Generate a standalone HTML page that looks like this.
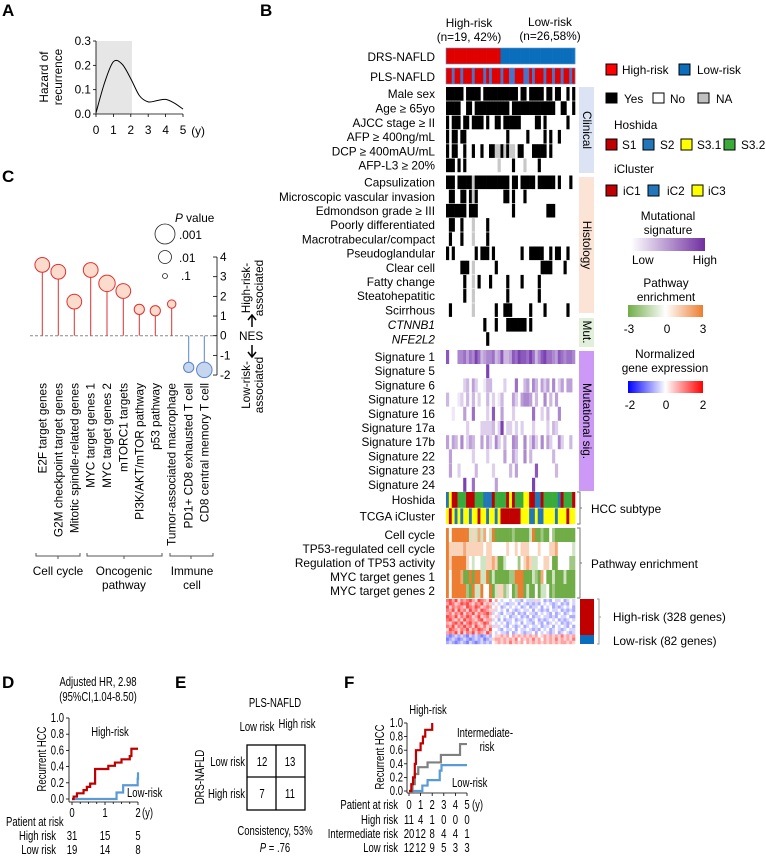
<!DOCTYPE html>
<html><head><meta charset="utf-8">
<style>
html,body{margin:0;padding:0;background:#fff;}
svg{display:block;font-family:"Liberation Sans",Arial,sans-serif;}
.n{font-family:"Liberation Sans Narrow","Liberation Sans",sans-serif;font-size:12.5px;}
.l{font-size:11.8px;}
.pl{font-size:17px;font-weight:bold;}
</style></head>
<body>
<svg id="fig" width="766" height="858" viewBox="0 0 766 858" xmlns="http://www.w3.org/2000/svg">
<text class="pl" x="2" y="16">A</text>
<text class="pl" x="260" y="16">B</text>
<text class="pl" x="2" y="182">C</text>
<text class="pl" x="2" y="688">D</text>
<text class="pl" x="175" y="688">E</text>
<text class="pl" x="344" y="688">F</text>

<g id="pa" class="l">
<rect x="96" y="41" width="36" height="73" fill="#e6e6e6"/>
<text transform="translate(48,77) rotate(-90)" text-anchor="middle">Hazard of</text>
<text transform="translate(62,77) rotate(-90)" text-anchor="middle">recurrence</text>
<text x="205" y="135" text-anchor="end">(y)</text>
</g>

<g id="pc" class="l">
<text x="175" y="222"><tspan font-style="italic">P</tspan> value</text>
<text x="179" y="239">.001</text>
<text x="179" y="262">.01</text>
<text x="181" y="280">.1</text>
<circle cx="165" cy="234" r="10" fill="none" stroke="#222" stroke-width="0.8"/>
<circle cx="165" cy="257" r="6.5" fill="none" stroke="#222" stroke-width="0.8"/>
<circle cx="165" cy="276" r="2.5" fill="none" stroke="#222" stroke-width="0.8"/>
<text transform="translate(250,288) rotate(-90)" text-anchor="middle">High-risk-</text>
<text transform="translate(263,288) rotate(-90)" text-anchor="middle">associated</text>
<text x="239" y="340">NES</text>
<path d="M252,327 L252,316 M248,320 L252,315 L256,320" fill="none" stroke="#000" stroke-width="1.5"/>
<path d="M252,345 L252,356 M248,352 L252,357 L256,352" fill="none" stroke="#000" stroke-width="1.5"/>
<text transform="translate(250,385) rotate(-90)" text-anchor="middle">Low-risk-</text>
<text transform="translate(263,385) rotate(-90)" text-anchor="middle">associated</text>
<path d="M36,553 V556 H80 V553 M58,556 V559" fill="none" stroke="#555"/>
<path d="M87,553 V556 H162 V553 M124,556 V559" fill="none" stroke="#555"/>
<path d="M170,553 V556 H213 V553 M191,556 V559" fill="none" stroke="#555"/>
<text x="58" y="575" text-anchor="middle">Cell cycle</text>
<text x="124" y="575" text-anchor="middle">Oncogenic</text>
<text x="124" y="589" text-anchor="middle">pathway</text>
<text x="192" y="575" text-anchor="middle">Immune</text>
<text x="192" y="589" text-anchor="middle">cell</text>
</g>

<g id="pb" class="l">
<text x="469" y="27" text-anchor="middle">High-risk</text>
<text x="469" y="41" text-anchor="middle">(n=19, 42%)</text>
<text x="550" y="26" text-anchor="middle">Low-risk</text>
<text x="550" y="40" text-anchor="middle">(n=26,58%)</text>
<text x="435" y="61" text-anchor="end">DRS-NAFLD</text>
<text x="435" y="81" text-anchor="end">PLS-NAFLD</text>
<g id="rowlabels" text-anchor="end"></g>
<rect x="579" y="87" width="15" height="86" fill="#dbe3f4"/>
<rect x="579" y="177" width="15" height="136" fill="#fbe3d6"/>
<rect x="579" y="318" width="15" height="29" fill="#e2efda"/>
<rect x="579" y="351" width="15" height="140" fill="#cc99f7"/>
<text transform="translate(583,130) rotate(90)" text-anchor="middle">Clinical</text>
<text transform="translate(583,245) rotate(90)" text-anchor="middle">Histology</text>
<text transform="translate(583,332) rotate(90)" text-anchor="middle">Mut.</text>
<text transform="translate(583,421) rotate(90)" text-anchor="middle">Mutational sig.</text>
<path d="M577,492 H580 V524 H577 M580,508 H582" fill="none" stroke="#777"/>
<text x="591" y="513">HCC subtype</text>
<path d="M577,528 H580 V598 H577 M580,563 H582" fill="none" stroke="#777"/>
<text x="591" y="568">Pathway enrichment</text>
<rect x="580" y="599" width="14" height="36" fill="#c00000"/>
<rect x="580" y="635" width="14" height="9" fill="#0a6ebd"/>
<path d="M597,599 H599 V644 H597 M599,617 H601" fill="none" stroke="#999"/>
<text x="613" y="621">High-risk (328 genes)</text>
<text x="613" y="645">Low-risk (82 genes)</text>
<rect x="606" y="64" width="11" height="11" fill="#ff0000" stroke="#000"/>
<text x="622" y="74">High-risk</text>
<rect x="679" y="64" width="11" height="11" fill="#0a6ebd" stroke="#000"/>
<text x="697" y="74">Low-risk</text>
<rect x="606" y="93" width="11" height="10" fill="#000" stroke="#000"/>
<text x="624" y="103">Yes</text>
<rect x="653" y="93" width="11" height="10" fill="#fff" stroke="#000"/>
<text x="670" y="103">No</text>
<rect x="698" y="93" width="11" height="10" fill="#c0c0c0" stroke="#000"/>
<text x="716" y="103">NA</text>
<text x="614" y="129">Hoshida</text>
<rect x="606" y="139" width="11" height="11" fill="#c00000" stroke="#000"/>
<text x="622" y="149">S1</text>
<rect x="643" y="139" width="11" height="11" fill="#2277bb" stroke="#000"/>
<text x="660" y="149">S2</text>
<rect x="681" y="139" width="11" height="11" fill="#ffff00" stroke="#000"/>
<text x="697" y="149">S3.1</text>
<rect x="724" y="139" width="11" height="11" fill="#3aaa3a" stroke="#000"/>
<text x="741" y="149">S3.2</text>
<text x="614" y="173">iCluster</text>
<rect x="606" y="185" width="11" height="11" fill="#c00000" stroke="#000"/>
<text x="623" y="195">iC1</text>
<rect x="648" y="185" width="11" height="11" fill="#2277bb" stroke="#000"/>
<text x="667" y="195">iC2</text>
<rect x="692" y="185" width="11" height="11" fill="#ffff00" stroke="#000"/>
<text x="708" y="195">iC3</text>
<defs>
<linearGradient id="gp"><stop offset="0" stop-color="#fff"/><stop offset="1" stop-color="#7030a0"/></linearGradient>
<linearGradient id="gg"><stop offset="0" stop-color="#70ad47"/><stop offset="0.5" stop-color="#fff"/><stop offset="1" stop-color="#ed7d31"/></linearGradient>
<linearGradient id="gb"><stop offset="0" stop-color="#0000ff"/><stop offset="0.5" stop-color="#fff"/><stop offset="1" stop-color="#ff0000"/></linearGradient>
</defs>
<text x="668" y="220" text-anchor="middle">Mutational</text>
<text x="668" y="234" text-anchor="middle">signature</text>
<rect x="631" y="238" width="74" height="13" fill="url(#gp)"/>
<text x="632" y="264">Low</text>
<text x="717" y="264" text-anchor="end">High</text>
<text x="666" y="287" text-anchor="middle">Pathway</text>
<text x="666" y="301" text-anchor="middle">enrichment</text>
<rect x="628" y="305" width="75" height="12" fill="url(#gg)"/>
<text x="629" y="333" text-anchor="middle">-3</text>
<text x="667" y="333" text-anchor="middle">0</text>
<text x="703" y="333" text-anchor="middle">3</text>
<text x="665" y="358" text-anchor="middle">Normalized</text>
<text x="665" y="372" text-anchor="middle">gene expression</text>
<rect x="628" y="381" width="75" height="12" fill="url(#gb)"/>
<text x="630" y="409" text-anchor="middle">-2</text>
<text x="666" y="409" text-anchor="middle">0</text>
<text x="703" y="409" text-anchor="middle">2</text>
</g>

<g id="pd" class="n">
<text x="98" y="686" text-anchor="middle">Adjusted HR, 2.98</text>
<text x="98" y="701" text-anchor="middle">(95%CI,1.04-8.50)</text>
<text transform="translate(46,759) rotate(-90)" text-anchor="middle">Recurrent HCC</text>
<text x="110" y="736" text-anchor="middle">High-risk</text>
<text x="127" y="797">Low-risk</text>
<text x="142" y="817">(y)</text>
<text x="6" y="826">Patient at risk</text>
<text x="56" y="840" text-anchor="end">High risk</text>
<text x="56" y="854" text-anchor="end">Low risk</text>
</g>

<g id="pe" class="n">
<text x="275" y="707" text-anchor="middle">PLS-NAFLD</text>
<text x="257" y="731" text-anchor="middle">Low risk</text>
<text x="297" y="728" text-anchor="middle">High risk</text>
<text transform="translate(204,777) rotate(-90)" text-anchor="middle">DRS-NAFLD</text>
<text x="245" y="766" text-anchor="end">Low risk</text>
<text x="245" y="798" text-anchor="end">High risk</text>
<rect x="247" y="745" width="58" height="65" fill="none" stroke="#000" stroke-width="1.3"/>
<path d="M276,745 V810 M247,777 H305" stroke="#000" stroke-width="1.3"/>
<text x="262" y="766" text-anchor="middle">12</text>
<text x="290" y="766" text-anchor="middle">13</text>
<text x="262" y="798" text-anchor="middle">7</text>
<text x="290" y="798" text-anchor="middle">11</text>
<text x="275" y="835" text-anchor="middle">Consistency, 53%</text>
<text x="275" y="852" text-anchor="middle"><tspan font-style="italic">P</tspan> = .76</text>
</g>

<g id="pf" class="n">
<text x="428" y="714" text-anchor="middle">High-risk</text>
<text x="457" y="737">Intermediate-</text>
<text x="487" y="751" text-anchor="middle">risk</text>
<text x="452" y="787">Low-risk</text>
<text transform="translate(384,757) rotate(-90)" text-anchor="middle">Recurrent HCC</text>
<text x="472" y="809">(y)</text>
<text x="398" y="809" text-anchor="end">Patient at risk</text>
<text x="398" y="824" text-anchor="end">High risk</text>
<text x="398" y="838" text-anchor="end">Intermediate risk</text>
<text x="398" y="852" text-anchor="end">Low risk</text>
</g>
</svg>

<script>
// Panel A
const aYears = [0,0.5,1,1.5,2,2.5,3,3.5,4,4.5,5];
const aHazard = [0.005,0.13,0.215,0.205,0.145,0.075,0.05,0.055,0.06,0.045,0.02];
const aYTicks = ["0.0","0.1","0.2","0.3"];
const aXTicks = ["0","1","2","3","4","5"];
// Panel C
const cCategories = ["E2F target genes","G2M checkpoint target genes","Mitotic spindle-related genes","MYC target genes 1","MYC target genes 2","mTORC1 targets","PI3K/AKT/mTOR pathway","p53 pathway","Tumor-associated macrophage","PD1+ CD8 exhausted T cell","CD8 central memory T cell"];
const cNES = [3.6,3.25,1.73,3.34,2.66,2.27,1.34,1.27,1.61,-1.61,-1.74];
const cPval = [0.005,0.005,0.005,0.005,0.003,0.005,0.02,0.02,0.035,0.02,0.004];
const cTicks = [-2,-1,0,1,2,3,4];
// Panel B
const drsRisk = "111111111111111111100000000000000000000000000";
const plsRisk = "110110111011101011101100111001011101101101101";
const clinicalLabels = ["Male sex","Age \u2265 65yo","AJCC stage \u2265 II","AFP \u2265 400ng/mL","DCP \u2265 400mAU/mL","AFP-L3 \u2265 20%"];
const clinicalRows = [
 "111111011111011111111111101101111101101100101",
 "111110011011111111111101111111111111110011001",
 "101110110111101001101111110000011010000000100",
 "101101100000000000000100000010000010100100000",
 "101100100100100112212122011000111110100000000",
 "111010100000000000200001000200001000000000000"];
const histologyLabels = ["Capsulization","Microscopic vascular invasion","Edmondson grade \u2265 III","Poorly differentiated","Macrotrabecular/compact","Pseudoglandular","Clear cell","Fatty change","Steatohepatitic","Scirrhous"];
const histologyRows = [
 "111011111211111111111101101111101111110100010",
 "011001101210000000001101000100000000000000000",
 "111111101110000000000001000000000001110000000",
 "011001000200001000000000000000000000000000000",
 "010001000200001000000000000000000000000000000",
 "101000000010111010000000001001111100101100100",
 "000001110200000001000000000000000111100001000",
 "000000100201000100000100001000001000000000000",
 "000000100200000000000100000000001000000000000",
 "010000000200000001001110000001000010000000100"];
const mutLabels = ["CTNNB1","NFE2L2"];
const mutRows = [
 "000000000000010001000111111101000000000000000",
 "000000000000001000000000000000000000000000000"];
const sigLabels = ["Signature 1","Signature 5","Signature 6","Signature 12","Signature 16","Signature 17a","Signature 17b","Signature 22","Signature 23","Signature 24"];
const sigRows = [
 "700055646586345563473347687768635786654765665",
 "000000000000008000000000000000000000000000000",
 "000000230420013300002000600340530424050240440",
 "300012030302003020130004204554030050304000000",
 "001000400600002070040002000000600203000500000",
 "000000020000222230280220202000200002032000000",
 "404305024300404205203005400502520504200520030",
 "040000000200002000004004200503000000030000000",
 "040020000030000020000030400000070000003000000",
 "000000800600000004000000000000800000000000000"];
const subtypeLabels = ["Hoshida","TCGA iCluster"];
const hoshida = "231144411144422214444131444331122144444214441";
const icluster = "313232332331332332311111113332232233332333133";
const pathwayLabels = ["Cell cycle","TP53-regulated cell cycle","Regulation of TP53 activity","MYC target genes 1","MYC target genes 2"];
const pathwayRows = [
 "636666662425253260000001000002600100310000000",
 "644444544444434433333433434443334333445333332",
 "646666643233224454002333313454223344300333311",
 "636665006066226020000011666000210530020002000",
 "636666610622633602441230166020030223010000000"];
const geneRows = [
 "786857678658765846434434332433353423243342343",
 "687568786576856534343233424323232434323423243",
 "857676587687567645423434342342334243423234342",
 "768586758675876553434243234334243232433423232",
 "675768576857678634324332423243324343242342343",
 "876857687568567545343423342324233433232433422",
 "786575867657856634242334233432342323434232343",
 "657868578675687543434234342433243242343423234",
 "768576867586575635343243234234334233424343242",
 "587657685768765844324334243343232434234323433",
 "676858576857658643433242343233424343234234323",
 "212323213232123245565646565656564565656575656",
 "123212321232312356656565746565756465657565657",
 "232123213212323245656575656465656565656566565"];
// Panel D
const dYTicks = ["0.0","0.2","0.4","0.6","0.8","1.0"];
const dXTicks = ["0","1","2"];
const dHighT = [0,0.05,0.15,0.35,0.45,0.55,0.7,0.9,1.1,1.3,1.5,1.75,1.8,2.0];
const dHighY = [0,0.03,0.07,0.11,0.15,0.19,0.37,0.37,0.41,0.45,0.49,0.53,0.62,0.62];
const dLowT = [0,1.35,1.55,1.97,1.99,2.0];
const dLowY = [0,0.08,0.17,0.17,0.25,0.33];
const dHighRisk = ["31","15","5"];
const dLowRisk = ["19","14","8"];
// Panel F
const fYTicks = ["0.0","0.2","0.4","0.6","0.8","1.0"];
const fXTicks = ["0","1","2","3","4","5"];
const fHighT = [0,0.2,0.35,0.5,0.6,1.0,1.2,1.4,2.0,2.0];
const fHighY = [0,0.1,0.2,0.4,0.6,0.7,0.8,0.9,0.9,1.0];
const fIntT = [0,0.3,0.5,0.8,1.6,2.75,4.4,5.0];
const fIntY = [0,0.1,0.25,0.35,0.42,0.53,0.69,0.69];
const fLowT = [0,1.15,1.6,2.65,2.8,5.0];
const fLowY = [0,0.08,0.16,0.3,0.38,0.38];
const fHighRisk = ["11","4","1","0","0","0"];
const fIntRisk = ["20","12","8","4","4","1"];
const fLowRisk = ["12","12","9","5","3","3"];

const NS = "http://www.w3.org/2000/svg";
function mk(parent, tag, attrs, name) {
  const el = document.createElementNS(NS, tag);
  for (const k in attrs) el.setAttribute(k, attrs[k]);
  
  
  parent.appendChild(el);
  return el;
}
function txt(parent, x, y, s, anchor, name) {
  const el = mk(parent, 'text', {x: x, y: y, 'text-anchor': anchor || 'start'}, name);
  el.textContent = s;
  return el;
}
function lerp(c1, c2, t) {
  const a = [parseInt(c1.slice(1,3),16),parseInt(c1.slice(3,5),16),parseInt(c1.slice(5,7),16)];
  const b = [parseInt(c2.slice(1,3),16),parseInt(c2.slice(3,5),16),parseInt(c2.slice(5,7),16)];
  return 'rgb(' + a.map((v,i)=>Math.round(v+(b[i]-v)*t)).join(',') + ')';
}

// PANEL A
(function(){
  const g = document.getElementById('pa');
  const xA = v => 96 + v * 17.4, yA = v => 114 - v * 243.3;
  mk(g,'path',{d:'M96,41 V114 H183',fill:'none',stroke:'#000','stroke-width':0.8},'a-axes');
  aYTicks.forEach(t=>{ const y=yA(+t); mk(g,'line',{x1:93,x2:96,y1:y,y2:y,stroke:'#000','stroke-width':0.8},'a-y-tick'); txt(g,91,y+4,t,'end','a-y-tick-label'); });
  aXTicks.forEach(t=>{ const x=xA(+t); mk(g,'line',{x1:x,x2:x,y1:114,y2:117,stroke:'#000','stroke-width':0.8},'a-x-tick'); txt(g,x,134,t,'middle','a-x-tick-label'); });
  const P = aYears.map((t,i)=>[xA(t), yA(aHazard[i])]);
  let d = 'M'+P[0][0]+','+P[0][1];
  for (let i=0;i<P.length-1;i++){
    const p0=P[Math.max(0,i-1)],p1=P[i],p2=P[i+1],p3=P[Math.min(P.length-1,i+2)];
    const c1=[p1[0]+(p2[0]-p0[0])/6,p1[1]+(p2[1]-p0[1])/6], c2=[p2[0]-(p3[0]-p1[0])/6,p2[1]-(p3[1]-p1[1])/6];
    d+=' C'+c1+' '+c2+' '+p2;
  }
  mk(g,'path',{d:d,fill:'none',stroke:'#000','stroke-width':1},'hazard-curve');
})();

// PANEL C
(function(){
  const g = document.getElementById('pc');
  const xs = [42.3,58.3,74.3,90.7,107,123.3,139.3,155.3,171.7,188.7,204.3];
  const yC = v => 335.7 - v * 19.67;
  const rP = p => 2.5 + 3.75 * (-Math.log10(p) - 1);
  mk(g,'line',{x1:30,x2:216,y1:yC(0),y2:yC(0),stroke:'#888','stroke-dasharray':'3,2','stroke-width':1},'nes-zero-line');
  mk(g,'line',{x1:217,x2:217,y1:yC(4),y2:yC(-2),stroke:'#000','stroke-width':0.8},'nes-axis');
  cTicks.forEach(t=>{ const y=yC(t); mk(g,'line',{x1:213,x2:217,y1:y,y2:y,stroke:'#000','stroke-width':0.8},'nes-tick'); txt(g,220,y+4,String(t),'start','nes-tick-label'); });
  cCategories.forEach((c,i)=>{
    const up = cNES[i] >= 0, col = up ? '#e03030' : '#5b84c8', fill = up ? '#fbdccc' : '#c6d6ef';
    const x = xs[i], y = yC(cNES[i]);
    mk(g,'line',{x1:x,x2:x,y1:yC(0),y2:y,stroke:col,'stroke-width':1},'lollipop-stem');
    mk(g,'circle',{cx:x,cy:y,r:rP(cPval[i]),fill:fill,stroke:col,'stroke-width':1},'lollipop-head');
    const t = mk(g,'text',{transform:'translate('+(x+4)+',383) rotate(-90)','text-anchor':'end'},'category-label');
    t.textContent = c;
  });
})();

// PANEL B
(function(){
  const g = document.getElementById('pb');
  const rl = document.getElementById('rowlabels');
  const X0 = 446, NC = 45, CW = 129 / NC;
  const cx = i => X0 + i * CW;
  for (let i=0;i<NC;i++) mk(g,'rect',{x:cx(i),y:48,width:CW+0.3,height:16,fill:drsRisk[i]==='1'?'#e00000':'#0a6ebd'},'drs-cell');
  mk(g,'rect',{x:X0,y:48,width:129,height:16,fill:'none',stroke:'#5b9bd5','stroke-width':0.6},'drs-border');
  for (let i=0;i<NC;i++) mk(g,'rect',{x:cx(i),y:68,width:CW+0.3,height:16,fill:plsRisk[i]==='1'?'#e00000':'#4a74c9'},'pls-cell');
  mk(g,'rect',{x:X0,y:68,width:129,height:16,fill:'none',stroke:'#5b9bd5','stroke-width':0.6},'pls-border');
  function binRows(labels, rows, top, h, name, italic){
    rows.forEach((r,ri)=>{
      const y = top + ri*h;
      const t = txt(rl, 435, y + h/2 + 4, labels[ri], 'end', name + '-label');
      if (italic) t.setAttribute('font-style','italic');
      for (let i=0;i<NC;i++){
        const v = r[i];
        if (v==='1') mk(g,'rect',{x:cx(i),y:y,width:CW+0.3,height:h-0.6,fill:'#000'},name+'-cell');
        else if (v==='2') mk(g,'rect',{x:cx(i),y:y,width:CW+0.3,height:h-0.6,fill:'#c8c8c8'},name+'-cell');
      }
    });
  }
  binRows(clinicalLabels, clinicalRows, 87, 14.3, 'clinical');
  binRows(histologyLabels, histologyRows, 175.5, 14.2, 'histology');
  binRows(mutLabels, mutRows, 318, 14.2, 'mutation', true);
  sigLabels.forEach((lab,ri)=>{
    const y = 350 + ri*14.2;
    txt(rl, 435, y + 11, lab, 'end', 'signature-label');
    for (let i=0;i<NC;i++){ const v=+sigRows[ri][i]; if (v>0) mk(g,'rect',{x:cx(i),y:y,width:CW+0.3,height:14,fill:lerp('#ffffff','#6a2aa8',v/9)},'signature-cell'); }
  });
  const hc = {'1':'#c00000','2':'#2277bb','3':'#ffff00','4':'#3aaa3a'};
  [hoshida, icluster].forEach((r,ri)=>{
    const y = 492 + ri*16.3;
    txt(rl, 435, y + 12, subtypeLabels[ri], 'end', 'subtype-label');
    for (let i=0;i<NC;i++) mk(g,'rect',{x:cx(i),y:y,width:CW+0.3,height:15.8,fill:hc[r[i]]},'subtype-cell');
  });
  pathwayLabels.forEach((lab,ri)=>{
    const y = 528 + ri*14;
    txt(rl, 435, y + 11, lab, 'end', 'pathway-label');
    for (let i=0;i<NC;i++){
      const v = +pathwayRows[ri][i] - 3;
      const col = v<0 ? lerp('#ffffff','#70ad47',-v/3) : lerp('#ffffff','#ed7d31',v/3);
      mk(g,'rect',{x:cx(i),y:y,width:CW+0.3,height:14.2,fill:col},'pathway-cell');
    }
  });
  const gh = 45 / geneRows.length;
  geneRows.forEach((r,ri)=>{
    for (let i=0;i<NC;i++){
      const v = +r[i] - 4;
      const col = v<0 ? lerp('#ffffff','#3a3aff',-v/4*0.85) : lerp('#ffffff','#ff2a2a',v/4*0.85);
      mk(g,'rect',{x:cx(i),y:599+ri*gh,width:CW+0.3,height:gh+0.2,fill:col},'gene-cell');
    }
  });
})();

function step(g, T, Y, xf, yf, color, name){
  let d = 'M'+xf(T[0])+','+yf(Y[0]);
  for (let i=1;i<T.length;i++){ d += ' H'+xf(T[i])+' V'+yf(Y[i]); }
  mk(g,'path',{d:d,fill:'none',stroke:color,'stroke-width':2.2},name);
}
// PANEL D
(function(){
  const g = document.getElementById('pd');
  const xD = t => 72 + t*33, yD = v => 799 - v*81;
  mk(g,'path',{d:'M69,718 V802 M69,802 H138',fill:'none',stroke:'#000','stroke-width':0.8},'d-axes');
  dYTicks.forEach(t=>{ const y=yD(+t); mk(g,'line',{x1:66,x2:69,y1:y,y2:y,stroke:'#000','stroke-width':0.8},'d-y-tick'); txt(g,64,y+4,t,'end','d-y-tick-label'); });
  for (let k=0;k<=8;k++){ const x=xD(k*0.25); mk(g,'line',{x1:x,x2:x,y1:802,y2:k%4===0?805:804,stroke:'#000','stroke-width':0.8},'d-x-tick'); }
  dXTicks.forEach(t=>txt(g,xD(+t),817,t,'middle','d-x-tick-label'));
  step(g, dLowT, dLowY, xD, yD, '#5b9bd5', 'low-risk-curve');
  step(g, dHighT, dHighY, xD, yD, '#c00000', 'high-risk-curve');
  dHighRisk.forEach((v,i)=>txt(g,xD(i),840,v,'middle','d-high-risk-count'));
  dLowRisk.forEach((v,i)=>txt(g,xD(i),854,v,'middle','d-low-risk-count'));
})();
// PANEL F
(function(){
  const g = document.getElementById('pf');
  const xF = t => 409 + t*11.6, yF = v => 791 - v*68;
  mk(g,'path',{d:'M407,723 V793 M407,793 H467',fill:'none',stroke:'#000','stroke-width':0.8},'f-axes');
  fYTicks.forEach(t=>{ const y=yF(+t); mk(g,'line',{x1:404,x2:407,y1:y,y2:y,stroke:'#000','stroke-width':0.8},'f-y-tick'); txt(g,403,y+4,t,'end','f-y-tick-label'); });
  fXTicks.forEach(t=>{ const x=xF(+t); mk(g,'line',{x1:x,x2:x,y1:793,y2:796,stroke:'#000','stroke-width':0.8},'f-x-tick'); txt(g,x,809,t,'middle','f-x-tick-label'); });
  step(g, fLowT, fLowY, xF, yF, '#5b9bd5', 'f-low-risk-curve');
  step(g, fIntT, fIntY, xF, yF, '#808080', 'f-intermediate-risk-curve');
  step(g, fHighT, fHighY, xF, yF, '#c00000', 'f-high-risk-curve');
  fHighRisk.forEach((v,i)=>txt(g,xF(i),824,v,'middle','f-high-risk-count'));
  fIntRisk.forEach((v,i)=>txt(g,xF(i),838,v,'middle','f-intermediate-risk-count'));
  fLowRisk.forEach((v,i)=>txt(g,xF(i),852,v,'middle','f-low-risk-count'));
})();
// condense text in D/E/F to mimic narrow font
['pd','pe','pf'].forEach(id=>{
  document.querySelectorAll('#'+id+' text').forEach(el=>{
    const w = el.getComputedTextLength();
    if (w > 0) { el.setAttribute('textLength', (w*0.76).toFixed(1)); el.setAttribute('lengthAdjust','spacingAndGlyphs'); }
  });
});
</script>
</body></html>
